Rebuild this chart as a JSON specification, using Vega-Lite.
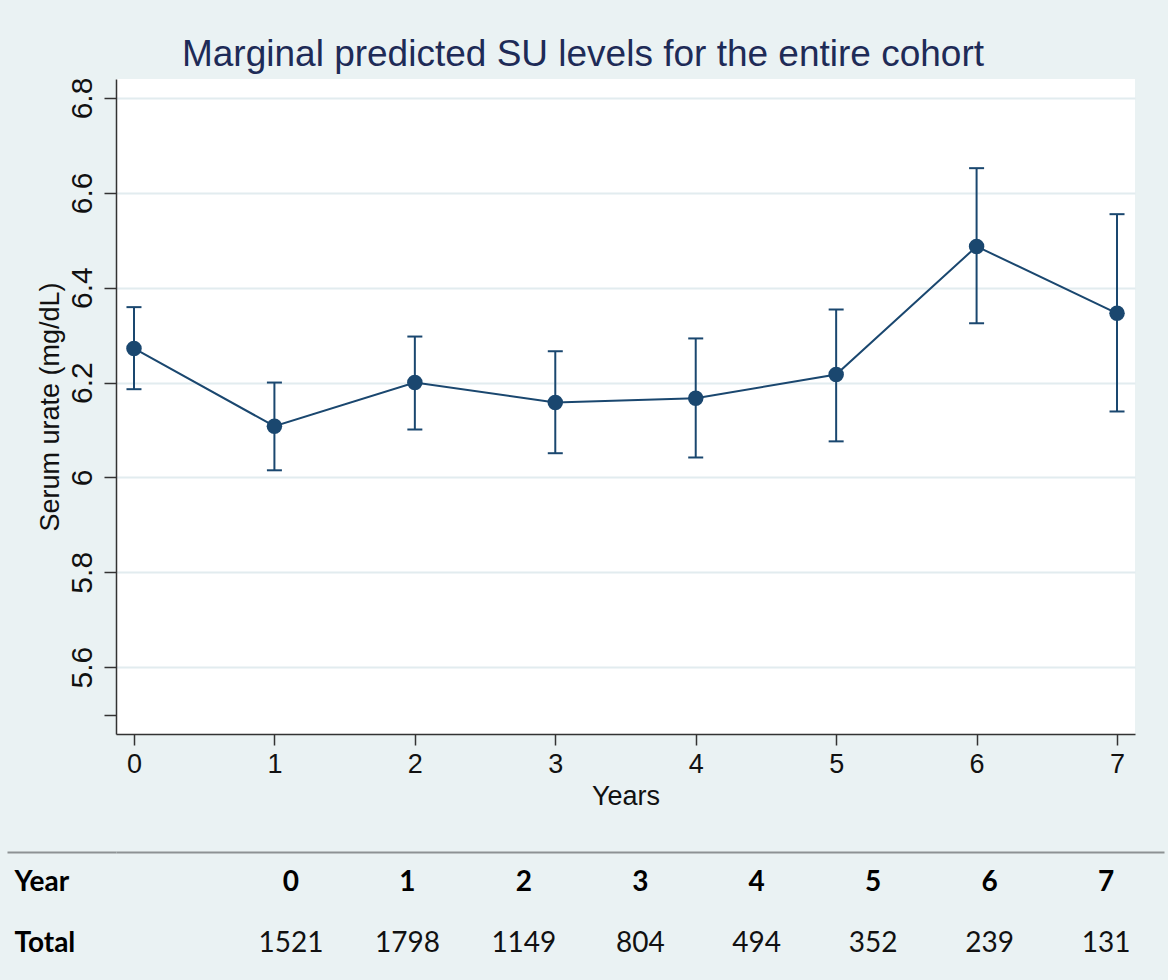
{
  "$schema": "https://vega.github.io/schema/vega-lite/v6.json",
  "background": "#eaf2f3",
  "padding": {"left": 6, "top": 36, "right": 4, "bottom": 6},
  "spacing": 42,
  "config": {
    "font": "Liberation Sans",
    "view": {"stroke": null}
  },
  "datasets": {
    "est": [
      {"year": 0, "est": 6.272, "lo": 6.186, "hi": 6.359},
      {"year": 1, "est": 6.108, "lo": 6.015, "hi": 6.200},
      {"year": 2, "est": 6.200, "lo": 6.101, "hi": 6.297},
      {"year": 3, "est": 6.158, "lo": 6.051, "hi": 6.266},
      {"year": 4, "est": 6.167, "lo": 6.042, "hi": 6.293},
      {"year": 5, "est": 6.217, "lo": 6.076, "hi": 6.354},
      {"year": 6, "est": 6.487, "lo": 6.325, "hi": 6.652},
      {"year": 7, "est": 6.346, "lo": 6.139, "hi": 6.555}
    ],
    "table": [
      {"col": 0, "row": "Year", "label": "0"},
      {"col": 1, "row": "Year", "label": "1"},
      {"col": 2, "row": "Year", "label": "2"},
      {"col": 3, "row": "Year", "label": "3"},
      {"col": 4, "row": "Year", "label": "4"},
      {"col": 5, "row": "Year", "label": "5"},
      {"col": 6, "row": "Year", "label": "6"},
      {"col": 7, "row": "Year", "label": "7"},
      {"col": 0, "row": "Total", "label": "1521"},
      {"col": 1, "row": "Total", "label": "1798"},
      {"col": 2, "row": "Total", "label": "1149"},
      {"col": 3, "row": "Total", "label": "804"},
      {"col": 4, "row": "Total", "label": "494"},
      {"col": 5, "row": "Total", "label": "352"},
      {"col": 6, "row": "Total", "label": "239"},
      {"col": 7, "row": "Total", "label": "131"}
    ]
  },
  "vconcat": [
    {
      "width": 1019,
      "height": 655,
      "title": {
        "text": "Marginal predicted SU levels for the entire cohort",
        "fontSize": 37,
        "fontWeight": "normal",
        "color": "#1e2b57",
        "font": "Liberation Sans",
        "anchor": "middle",
        "frame": "bounds",
        "baseline": "alphabetic",
        "offset": -26,
        "dx": 12
      },
      "view": {"fill": "white", "stroke": null},
      "data": {"name": "est"},
      "encoding": {
        "x": {
          "field": "year",
          "type": "quantitative",
          "scale": {"domain": [-0.128, 7.128], "nice": false, "zero": false},
          "axis": {
            "values": [0, 1, 2, 3, 4, 5, 6, 7],
            "format": "d",
            "title": "Years",
            "grid": false,
            "labelFontSize": 27,
            "labelColor": "#111111",
            "labelPadding": 6,
            "tickSize": 11,
            "tickWidth": 1.5,
            "tickColor": "#333333",
            "domainColor": "#333333",
            "domainWidth": 1.5,
            "titleFontSize": 27,
            "titleFontWeight": "normal",
            "titleColor": "#111111",
            "titlePadding": 6
          }
        }
      },
      "layer": [
        {
          "mark": {"type": "rule", "color": "#1a476f", "strokeWidth": 2},
          "encoding": {
            "y": {
              "field": "lo",
              "type": "quantitative",
              "title": "Serum urate (mg/dL)",
              "scale": {"domain": [5.459, 6.84], "nice": false, "zero": false},
              "axis": {
                "values": [5.5, 5.6, 5.8, 6.0, 6.2, 6.4, 6.6, 6.8],
                "format": "~g",
                "labelExpr": "datum.value < 5.55 ? '' : datum.label",
                "labelAngle": -90,
                "labelAlign": "center",
                "labelBaseline": "alphabetic",
                "labelPadding": 13,
                "labelFontSize": 30,
                "labelColor": "#111111",
                "tickSize": 12,
                "tickWidth": 1.5,
                "tickColor": "#333333",
                "domainColor": "#333333",
                "domainWidth": 1.5,
                "grid": true,
                "gridWidth": 2,
                "gridColor": {"condition": {"test": "datum.value < 5.55", "value": "transparent"}, "value": "#e2ecef"},
                "minExtent": 109,
                "titleX": -52,
                "titleFontSize": 27,
                "titleFontWeight": "normal",
                "titleColor": "#111111",
                "titlePadding": 6
              }
            },
            "y2": {"field": "hi"}
          }
        },
        {
          "mark": {"type": "tick", "orient": "horizontal", "size": 15, "thickness": 2, "color": "#1a476f", "opacity": 1},
          "encoding": {"y": {"field": "lo", "type": "quantitative", "title": "Serum urate (mg/dL)"}}
        },
        {
          "mark": {"type": "tick", "orient": "horizontal", "size": 15, "thickness": 2, "color": "#1a476f", "opacity": 1},
          "encoding": {"y": {"field": "hi", "type": "quantitative", "title": "Serum urate (mg/dL)"}}
        },
        {
          "mark": {"type": "line", "color": "#1a476f", "strokeWidth": 2},
          "encoding": {"y": {"field": "est", "type": "quantitative", "title": "Serum urate (mg/dL)"}}
        },
        {
          "mark": {"type": "point", "filled": true, "size": 240, "opacity": 1, "color": "#1a476f"},
          "encoding": {"y": {"field": "est", "type": "quantitative", "title": "Serum urate (mg/dL)"}}
        }
      ]
    },
    {
      "width": 1048,
      "height": 122,
      "view": {"stroke": null},
      "data": {"name": "table"},
      "encoding": {
        "x": {
          "field": "col",
          "type": "quantitative",
          "scale": {"domain": [-1.503, 7.498], "nice": false, "zero": false},
          "axis": {"orient": "top", "labels": false, "ticks": false, "domain": true, "domainColor": "#8d9294", "domainWidth": 2, "title": null, "grid": false}
        },
        "y": {
          "field": "row",
          "type": "nominal",
          "sort": ["Year", "Total"],
          "scale": {"type": "band", "paddingInner": 0, "paddingOuter": 0},
          "axis": {
            "title": null,
            "domain": false,
            "ticks": true,
            "tickSize": 109,
            "tickWidth": 2,
            "tickOffset": -30.5,
            "labelOffset": 30.5,
            "tickColor": "#8d9294",
            "tickOpacity": {"condition": {"test": "datum.value === 'Year'", "value": 1}, "value": 0},
            "grid": false,
            "labelAlign": "left",
            "labelBaseline": "middle",
            "labelPadding": -7,
            "labelFontSize": 28,
            "labelFont": "Lato",
            "labelFontWeight": "bold",
            "labelColor": "#000000"
          }
        },
        "text": {"field": "label"}
      },
      "layer": [
        {
          "transform": [{"filter": "datum.row == 'Year'"}],
          "mark": {"type": "text", "font": "Lato", "fontSize": 28, "fontWeight": "bold", "color": "#000000"}
        },
        {
          "transform": [{"filter": "datum.row == 'Total'"}],
          "mark": {"type": "text", "font": "Lato", "fontSize": 28, "fontWeight": "normal", "color": "#111111"}
        }
      ]
    }
  ]
}
